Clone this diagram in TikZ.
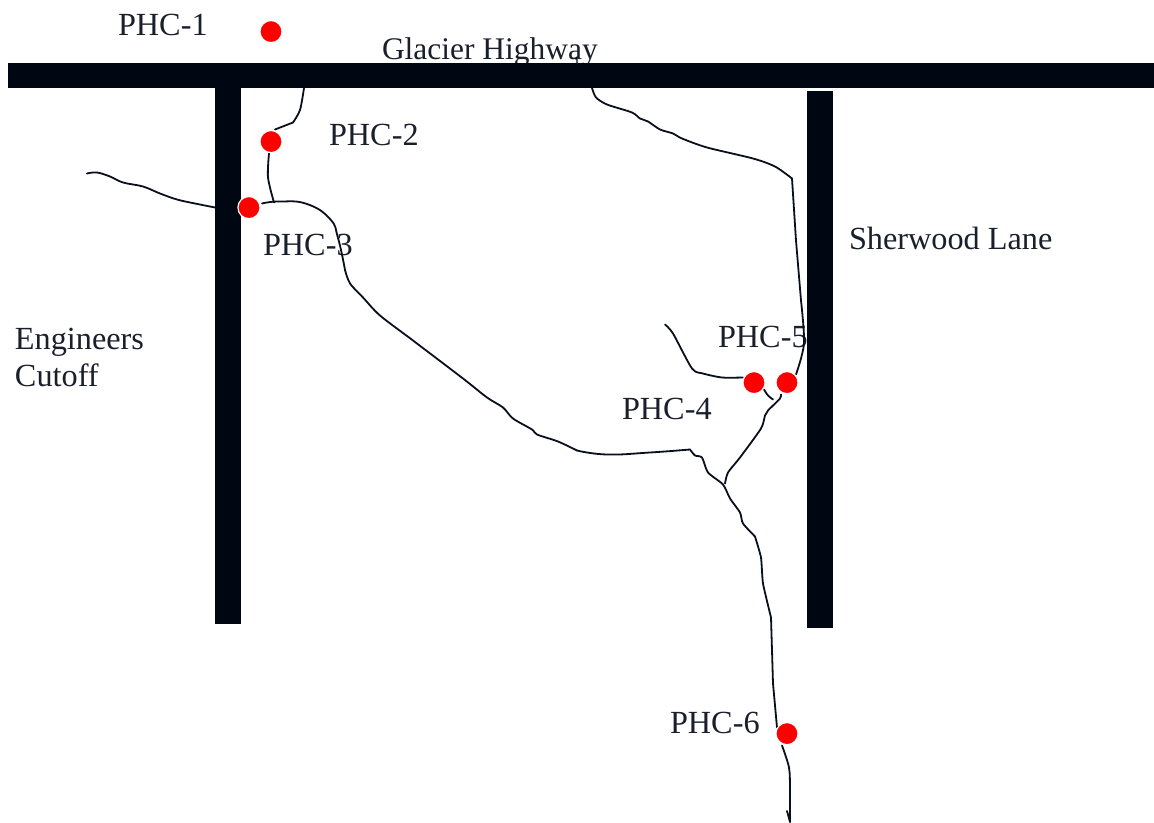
\documentclass[tikz,border=0pt]{standalone}
\usepackage{fontspec}
\setmainfont{Liberation Serif}
\definecolor{roadcol}{HTML}{000713}
\definecolor{streamcol}{HTML}{0A0F1E}
\definecolor{labelcol}{HTML}{1A1F2C}
\definecolor{dotcol}{HTML}{FF0000}
\tikzset{
  road/.style={fill=roadcol,draw=none},
  stream/.style={draw=streamcol,line width=1.35pt,line cap=round,line join=round},
  label/.style={anchor=base west,inner sep=0pt,outer sep=0pt,text=labelcol,font=\fontsize{24.2}{28}\selectfont},
  roadlabel/.style={label,font=\fontsize{23.6}{28}\selectfont},
  sample/.style={circle,fill=dotcol,draw=white,line width=0.9pt,minimum size=16.6pt,inner sep=0pt},
}
\begin{document}
\begin{tikzpicture}[x=0.75pt,y=-0.75pt]
\useasboundingbox (0,0) rectangle (1154,823);
% labels
\node[label] (l1) at (118,36) {PHC-1};
\node[label] (l2) at (329,146) {PHC-2};
\node[label] (l3) at (263,256) {PHC-3};
\node[label] (l4) at (622,420) {PHC-4};
\node[label] (l5) at (718,348) {PHC-5};
\node[label] (l6) at (670,733) {PHC-6};
\node[roadlabel] (glacier) at (382,60) {Glacier Highway};
\node[label] (sherwood) at (849,250) {Sherwood Lane};
\node[label] (eng) at (15,350) {Engineers};
\node[label] (cut) at (15,387) {Cutoff};
% streams
\draw[stream] plot[smooth,tension=0.6] coordinates {(87,173.5) (97,172.5) (110,176.5) (123,182.5) (143,186.5) (160,193.5) (177,199.5) (195,203.5) (215,207.5)};
\draw[stream] plot[smooth,tension=0.8] coordinates {(262,203.5) (280,201.5) (307,204) (330,219) (338,238) (345,270)};
\draw[stream] plot[smooth,tension=0.5] coordinates {(345,270) (350,283.5) (363,297.5) (380,315.5) (413,340.5) (463,378.5) (487,397.5) (503,407.5) (513,418.5) (532,429.5) (537,434.5) (558,441.5) (577,450.5)};
\draw[stream] plot[smooth,tension=0.8] coordinates {(577,450.5) (607,454.5) (650,452.5) (690,449.5)};
\draw[stream] plot[smooth,tension=0.4] coordinates {(690,449.5) (695,455.5) (702,457.5) (708,472.5) (723,484.5) (730,498.5) (740,512.5) (743,523.5) (755,536.5)};
\draw[stream] plot[smooth,tension=0.3] coordinates {(755,536.5) (761,557.5) (763,583.5) (771,617.5)};
\draw[stream] (771,617.5) -- (773,683.5) -- (777,727.5);
\draw[stream] plot[smooth,tension=0.5] coordinates {(782,745.5) (789,767.5) (790,790) (790,822)};
\draw[stream] (787,811) -- (790,822);
\draw[stream] plot[smooth,tension=0.5] coordinates {(304,88) (300,110) (293,122.5)};
\draw[stream] (293,122.5) -- (275,129.5);
\draw[stream] plot[smooth,tension=0.5] coordinates {(269,153.5) (268,177.5) (274,202.5)};
\draw[stream] plot[smooth,tension=0.45] coordinates {(592,88) (596,97.5) (607,104.5) (632,112.5) (640,118.5) (648,121.5) (660,129.5) (673,133.5) (682,138.5) (707,147.5) (753,158.5) (775,166.5) (792,178.5)};
\draw[stream] (792,178.5) -- (796,240.5) -- (801,300.5);
\draw[stream] plot[smooth,tension=0.5] coordinates {(801,300.5) (804,343.5) (796,374.5)};
\draw[stream] plot[smooth,tension=0.45] coordinates {(665,324.5) (673,333.5) (692,368.5) (703,373.5) (722,377.5) (743,377.5)};
\draw[stream] plot[smooth,tension=0.5] coordinates {(764,389.5) (768,395.5) (773,399.5)};
\draw[stream] plot[smooth,tension=0.4] coordinates {(781,394.5) (780,398.5) (768,410.5) (765,415.5) (761,428.5) (740,457.5) (728,472.5) (725,483.5)};
% roads
\fill[road] (8,63) rectangle (1154,88.5);
\fill[road] (214.5,88) rectangle (240.5,624);
\fill[road] (806.7,91) rectangle (832.7,628);
% small tick over the highway label
\draw[stream,line width=1pt] (575.5,59) -- (577,57) -- (577,64);
% sampling points
\node[sample] (p1) at (271,31.6) {};
\node[sample] (p2) at (271,141.6) {};
\node[sample] (p3) at (249,207.6) {};
\node[sample] (p4) at (754,382.6) {};
\node[sample] (p5) at (787,382.6) {};
\node[sample] (p6) at (787,733.6) {};
\end{tikzpicture}
\end{document}
